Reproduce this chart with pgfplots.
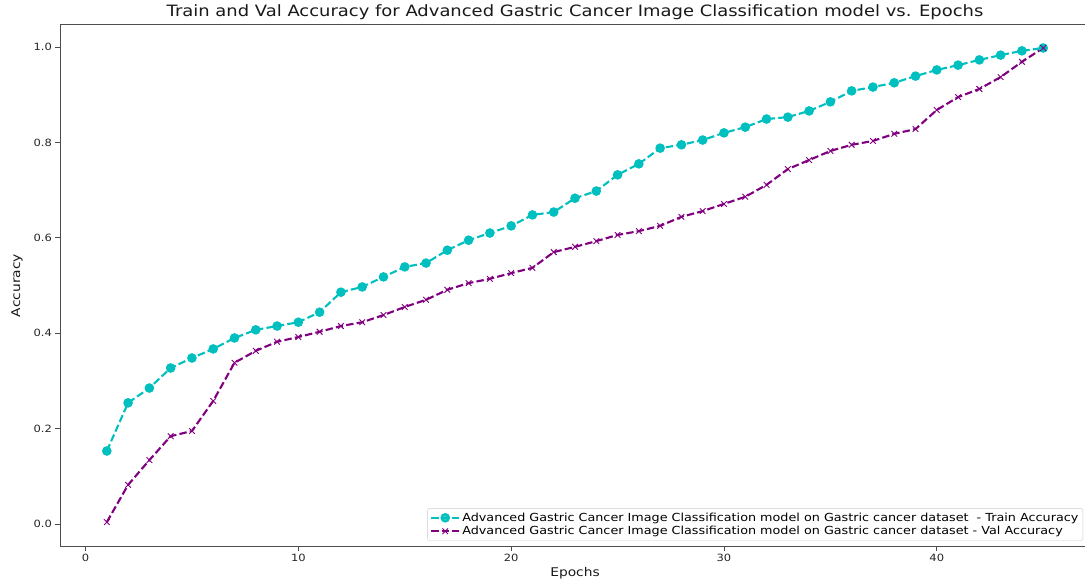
\documentclass[border=0pt]{standalone}
\usepackage{fontspec}
\setmainfont{DejaVu Sans}[FakeStretch=1.15]
\usepackage{pgfplots}
\pgfplotsset{compat=1.18}
\usetikzlibrary{calc}
\definecolor{mcyan}{RGB}{0,191,191}
\definecolor{mpurple}{RGB}{128,0,128}
\pgfplotstableread{
ep train val
1 0.153 0.004
2 0.254 0.082
3 0.285 0.134
4 0.327 0.184
5 0.348 0.195
6 0.367 0.258
7 0.390 0.338
8 0.407 0.363
9 0.415 0.382
10 0.423 0.392
11 0.444 0.403
12 0.486 0.415
13 0.497 0.423
14 0.518 0.438
15 0.539 0.455
16 0.547 0.470
17 0.574 0.491
18 0.595 0.505
19 0.610 0.514
20 0.625 0.526
21 0.648 0.537
22 0.654 0.570
23 0.683 0.581
24 0.698 0.593
25 0.732 0.606
26 0.755 0.614
27 0.788 0.625
28 0.795 0.644
29 0.805 0.656
30 0.820 0.671
31 0.832 0.686
32 0.849 0.711
33 0.853 0.744
34 0.866 0.763
35 0.885 0.782
36 0.908 0.795
37 0.916 0.803
38 0.925 0.818
39 0.939 0.828
40 0.952 0.868
41 0.962 0.895
42 0.973 0.912
43 0.983 0.937
44 0.992 0.969
45 0.998 0.998
}\datatable
\begin{document}
\begin{tikzpicture}
\begin{axis}[
  scale only axis,
  width=1030pt, height=521.8pt,
  xmin=-1.2, xmax=47.2, ymin=-0.047, ymax=1.047,
  xtick={0,10,20,30,40},
  ytick={0,0.2,0.4,0.6,0.8,1.0},
  /pgf/number format/assume math mode=true,
  yticklabel style={/pgf/number format/fixed,/pgf/number format/fixed zerofill,/pgf/number format/precision=1},
  tick label style={font=\fontsize{10}{12}\selectfont, black!85},
  tick align=outside, tick pos=left,
  major tick length=4.5pt,
  every tick/.style={black!70, line width=0.8pt},
  axis line style={black!70, line width=0.9pt},
  title={Train and Val Accuracy for Advanced Gastric Cancer Image Classification model vs. Epochs},
  title style={font=\fontsize{15.6}{17}\selectfont, at={(axis description cs:0.5,1)}, anchor=base, yshift=2.5pt, black!90},
  xlabel={Epochs}, ylabel={Accuracy},
  xlabel style={font=\fontsize{12}{14}\selectfont, at={(axis description cs:0.5,0)}, anchor=center, yshift=-27pt, black!90},
  ylabel style={font=\fontsize{12}{14}\selectfont, at={(axis description cs:-0.0417,0.5)}, anchor=center, black!90},
  legend style={font=\fontsize{11.1}{13}\selectfont, at={(axis description cs:1,0)}, anchor=south east, xshift=-7pt, yshift=5.5pt, draw=black!20, rounded corners=2pt, fill=white, fill opacity=0.8, text opacity=1, cells={anchor=west}, inner sep=2.5pt, row sep=-0.5pt},
  legend image code/.code={\draw[#1, mark repeat=2, mark phase=2] plot coordinates {(0pt,0pt) (14pt,0pt) (28pt,0pt)};},
]
\addplot[mcyan, line width=2.1pt, dash pattern=on 7.4pt off 3.2pt, mark=*, mark size=3.7pt, mark options={solid, fill=mcyan, draw=mcyan}] table[x=ep, y=train] {\datatable};
\addlegendentry{Advanced Gastric Cancer Image Classification model on Gastric cancer dataset~ - Train Accuracy}
\addplot[mpurple, line width=2.1pt, dash pattern=on 7.4pt off 3.2pt, mark=x, mark size=4pt, mark options={solid, line width=0.9pt}] table[x=ep, y=val] {\datatable};
\addlegendentry{Advanced Gastric Cancer Image Classification model on Gastric cancer dataset - Val Accuracy}
\end{axis}
\pgfresetboundingbox
\useasboundingbox ($(current axis.south west)+(-60pt,-35.6pt)$) rectangle ($(current axis.south west)+(1025pt,546.4pt)$);
\end{tikzpicture}
\end{document}
